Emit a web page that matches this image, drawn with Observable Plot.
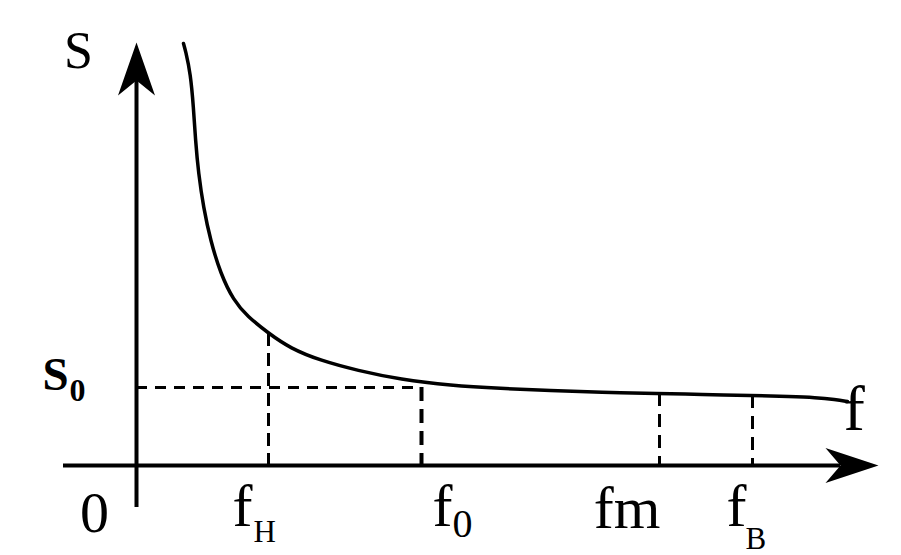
<!DOCTYPE html>
<html>
<head>
<meta charset="utf-8">
<script src="https://cdn.jsdelivr.net/npm/d3@7"></script>
<script src="https://cdn.jsdelivr.net/npm/@observablehq/plot@0.6"></script>
<style>
  html, body { margin: 0; padding: 0; background: #fff; }
  svg { display: block; }
</style>
</head>
<body>
<div id="chart"></div>
<script>
// ---- data (f measured from the origin, S measured up from the f axis) ----
const curveF = [47, 49, 54, 57, 59, 62, 67, 74, 84, 97, 111, 131, 154, 184, 221, 264, 314, 364, 414, 464, 523, 564, 616, 654, 679, 699, 711];
const curveS = [422, 415, 392, 358, 325, 292, 258, 225, 192, 165, 149, 133, 117, 105, 95, 86, 80, 77, 75, 73, 72, 71, 70, 69, 68, 66, 64];

const tickNames = ["f", "f", "fm", "f"];
const tickSubs = ["Н", "0", "", "В"];
const tickF = [132, 285, 523, 616];
const tickS = [132, 82, 72, 70];

const S0 = 78;
const S0Label = "S";
const S0Sub = "0";
const yAxisLabel = "S";
const xAxisLabel = "f";
const originLabel = "0";

const fAxisExtent = [-73, 704];
const sAxisExtent = [-42, 385];
const fArrowTip = 742;
const sArrowTip = 423;

const curve = curveF.map((f, i) => ({f, s: curveS[i]}));
const ticks = tickF.map((f, i) => ({f, s: tickS[i], name: tickNames[i], sub: tickSubs[i]}));

// custom dart-shaped arrowheads (tip at the dot's position)
const arrowRight = {
  draw(ctx) {
    ctx.moveTo(0, 0); ctx.lineTo(-53, -17.5); ctx.lineTo(-38, 0); ctx.lineTo(-53, 17.5); ctx.closePath();
  }
};
const arrowUp = {
  draw(ctx) {
    ctx.moveTo(0, 0); ctx.lineTo(-18.5, 53); ctx.lineTo(0, 38); ctx.lineTo(18.5, 53); ctx.closePath();
  }
};

const FONT = "Liberation Serif";

const tickLabelOffsets = [
  {fdx: -36, sdx: -15, sBase: 541},
  {fdx: 11, sdx: 31, sBase: 536},
  {fdx: 0, sdx: 0, sBase: 0},
  {fdx: -26, sdx: -7, sBase: 548}
];

const marks = [
  // S0 horizontal dashed
  Plot.ruleY([S0], {x1: 0, x2: tickF[1], stroke: "black", strokeWidth: 3, strokeDasharray: "11,8"}),
  // f_H (extends slightly below the axis)
  Plot.ruleX([ticks[0]], {x: "f", y1: "s", y2: -7, stroke: "black", strokeWidth: 3, strokeDasharray: "13,7"}),
  // f0 (heavier dash)
  Plot.ruleX([ticks[1]], {x: "f", y1: S0, y2: 0, stroke: "black", strokeWidth: 4, strokeDasharray: "14,8"}),
  // fm, fB
  Plot.ruleX(ticks.slice(2), {x: "f", y1: "s", y2: 0, stroke: "black", strokeWidth: 3, strokeDasharray: "13,8"}),
  // axes
  Plot.ruleY([0], {x1: fAxisExtent[0], x2: fAxisExtent[1], stroke: "black", strokeWidth: 4}),
  Plot.ruleX([0], {y1: sAxisExtent[0], y2: sAxisExtent[1], stroke: "black", strokeWidth: 4}),
  Plot.dot([{f: fArrowTip, s: 0}], {x: "f", y: "s", symbol: arrowRight, fill: "black", stroke: null}),
  Plot.dot([{f: 0, s: sArrowTip}], {x: "f", y: "s", symbol: arrowUp, fill: "black", stroke: null}),
  // curve
  Plot.line(curve, {x: "f", y: "s", curve: "basis", stroke: "black", strokeWidth: 3.5}),
  // axis labels
  Plot.text([yAxisLabel], {x: -58, y: 398, text: d => d, fontSize: 52, fontFamily: FONT, textAnchor: "middle", lineAnchor: "bottom"}),
  Plot.text([xAxisLabel], {x: 707, y: 36, text: d => d, fontSize: 64, fontFamily: FONT, textAnchor: "start", lineAnchor: "bottom"}),
  Plot.text([originLabel], {x: -42, y: -66, text: d => d, fontSize: 58, fontFamily: FONT, textAnchor: "middle", lineAnchor: "bottom"}),
  Plot.text([S0Label], {x: -94, y: 76, text: d => d, fontSize: 47, fontWeight: "bold", fontFamily: FONT, textAnchor: "start", lineAnchor: "bottom"}),
  Plot.text([S0Sub], {x: -67, y: 65, text: d => d, fontSize: 32, fontWeight: "bold", fontFamily: FONT, textAnchor: "start", lineAnchor: "bottom"})
];

ticks.forEach((t, i) => {
  const o = tickLabelOffsets[i];
  if (t.sub) {
    marks.push(Plot.text([t], {x: "f", y: 465 - 525, dx: o.fdx, text: "name", fontSize: 60, fontFamily: FONT, textAnchor: "start", lineAnchor: "bottom"}));
    marks.push(Plot.text([t], {x: "f", y: 465 - o.sBase, dx: o.sdx, text: "sub", fontSize: t.sub === "0" ? 40 : 31, fontFamily: FONT, textAnchor: "start", lineAnchor: "bottom"}));
  } else {
    marks.push(Plot.text([t], {x: "f", y: 465 - 527, dx: 1, text: "name", fontSize: 60, fontFamily: FONT, textAnchor: "end", lineAnchor: "bottom"}));
  }
});

const chart = Plot.plot({
  width: 901,
  height: 555,
  margin: 0,
  x: {domain: [-136, 765], range: [0, 901], axis: null},
  y: {domain: [-90, 465], range: [555, 0], axis: null},
  style: {background: "#fff"},
  marks
});
document.getElementById("chart").appendChild(chart);
</script>
</body>
</html>
